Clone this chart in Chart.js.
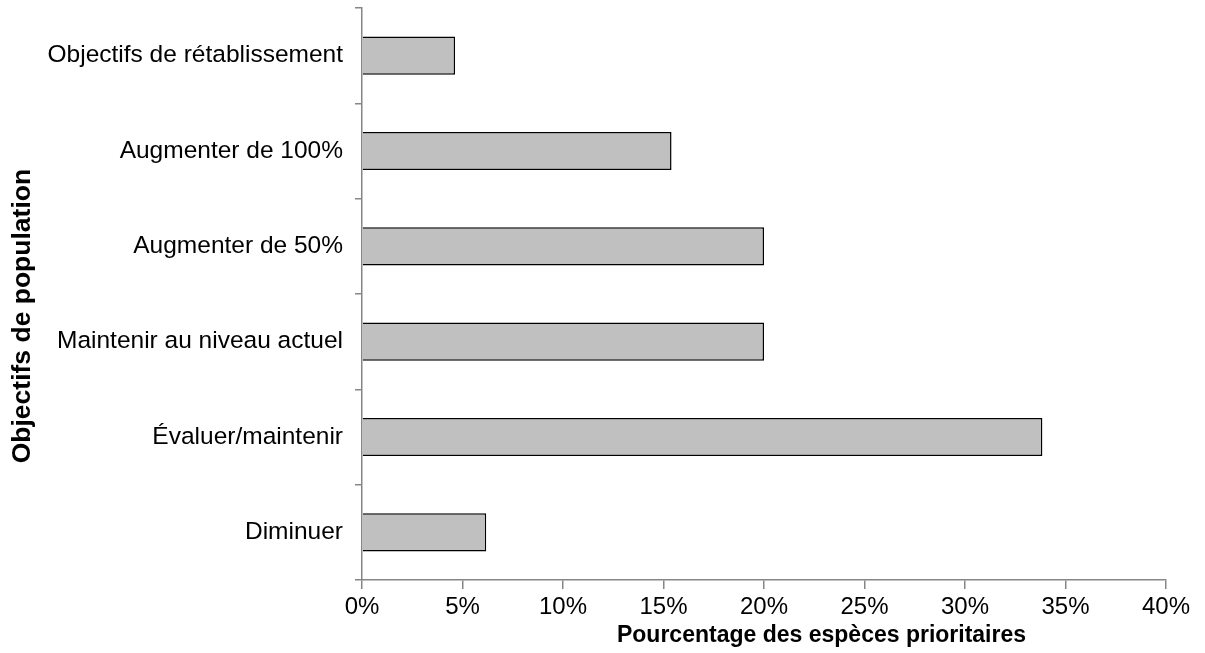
<!DOCTYPE html>
<html>
<head>
<meta charset="utf-8">
<script src="https://cdn.jsdelivr.net/npm/chart.js@4/dist/chart.umd.min.js"></script>
<style>
  html, body { margin: 0; padding: 0; background: #fff; }
  #wrap { width: 1205px; height: 653px; }
</style>
</head>
<body>
<div id="wrap"><canvas id="chart" width="1205" height="653"></canvas></div>
<script>
const categories = [
  "Objectifs de rétablissement",
  "Augmenter de 100%",
  "Augmenter de 50%",
  "Maintenir au niveau actuel",
  "Évaluer/maintenir",
  "Diminuer"
];
const percentages = [4.63, 15.4, 20.0, 20.0, 33.85, 6.18];
const xTicksMax = 40;
const xTicksStep = 5;

const axisColor = "#868686";
const fontFamily = "'Liberation Sans', Arial, sans-serif";

// drop the label half-height padding so the plot area sits where the layout says
const noPad = s => { s.paddingTop = 0; s.paddingBottom = 0; s.paddingLeft = 0; s.paddingRight = 0; };

const ctx = document.getElementById("chart");
const chart = new Chart(ctx, {
  type: "bar",
  data: {
    labels: categories,
    datasets: [{
      data: percentages,
      backgroundColor: "#c0c0c0",
      borderColor: "#000",
      borderWidth: 1.5,
      categoryPercentage: 1,
      barPercentage: 0.4
    }]
  },
  options: {
    indexAxis: "y",
    responsive: false,
    animation: false,
    layout: { padding: { top: 8, right: 39, left: 0, bottom: 0 } },
    plugins: { legend: { display: false }, tooltip: { enabled: false } },
    scales: {
      x: {
        min: 0,
        max: xTicksMax,
        ticks: {
          stepSize: xTicksStep,
          color: "#000",
          font: { family: fontFamily, size: 24 },
          padding: 4,
          callback: v => v + "%"
        },
        grid: { drawOnChartArea: false, color: axisColor, tickLength: 9, lineWidth: 1.5 },
        border: { color: axisColor, width: 1.5 },
        title: {
          display: true,
          // leading spaces push the title right, as in the original
          text: "                  Pourcentage des espèces prioritaires",
          color: "#000",
          font: { family: fontFamily, size: 23, weight: "bold" },
          padding: { top: 0, bottom: 4 }
        },
        afterFit: s => { s.height = 73; noPad(s); }
      },
      y: {
        ticks: {
          color: "#000",
          font: { family: fontFamily, size: 24.5 },
          padding: 12
        },
        grid: { drawOnChartArea: false, color: axisColor, tickLength: 7, lineWidth: 1.5, offset: true },
        border: { color: axisColor, width: 1.5 },
        title: {
          display: true,
          text: "Objectifs de population      ",
          color: "#000",
          font: { family: fontFamily, size: 26.5, weight: "bold" },
          padding: { top: 7, bottom: 0 }
        },
        afterFit: s => { s.width = 362; noPad(s); }
      }
    }
  }
});
</script>
</body>
</html>
